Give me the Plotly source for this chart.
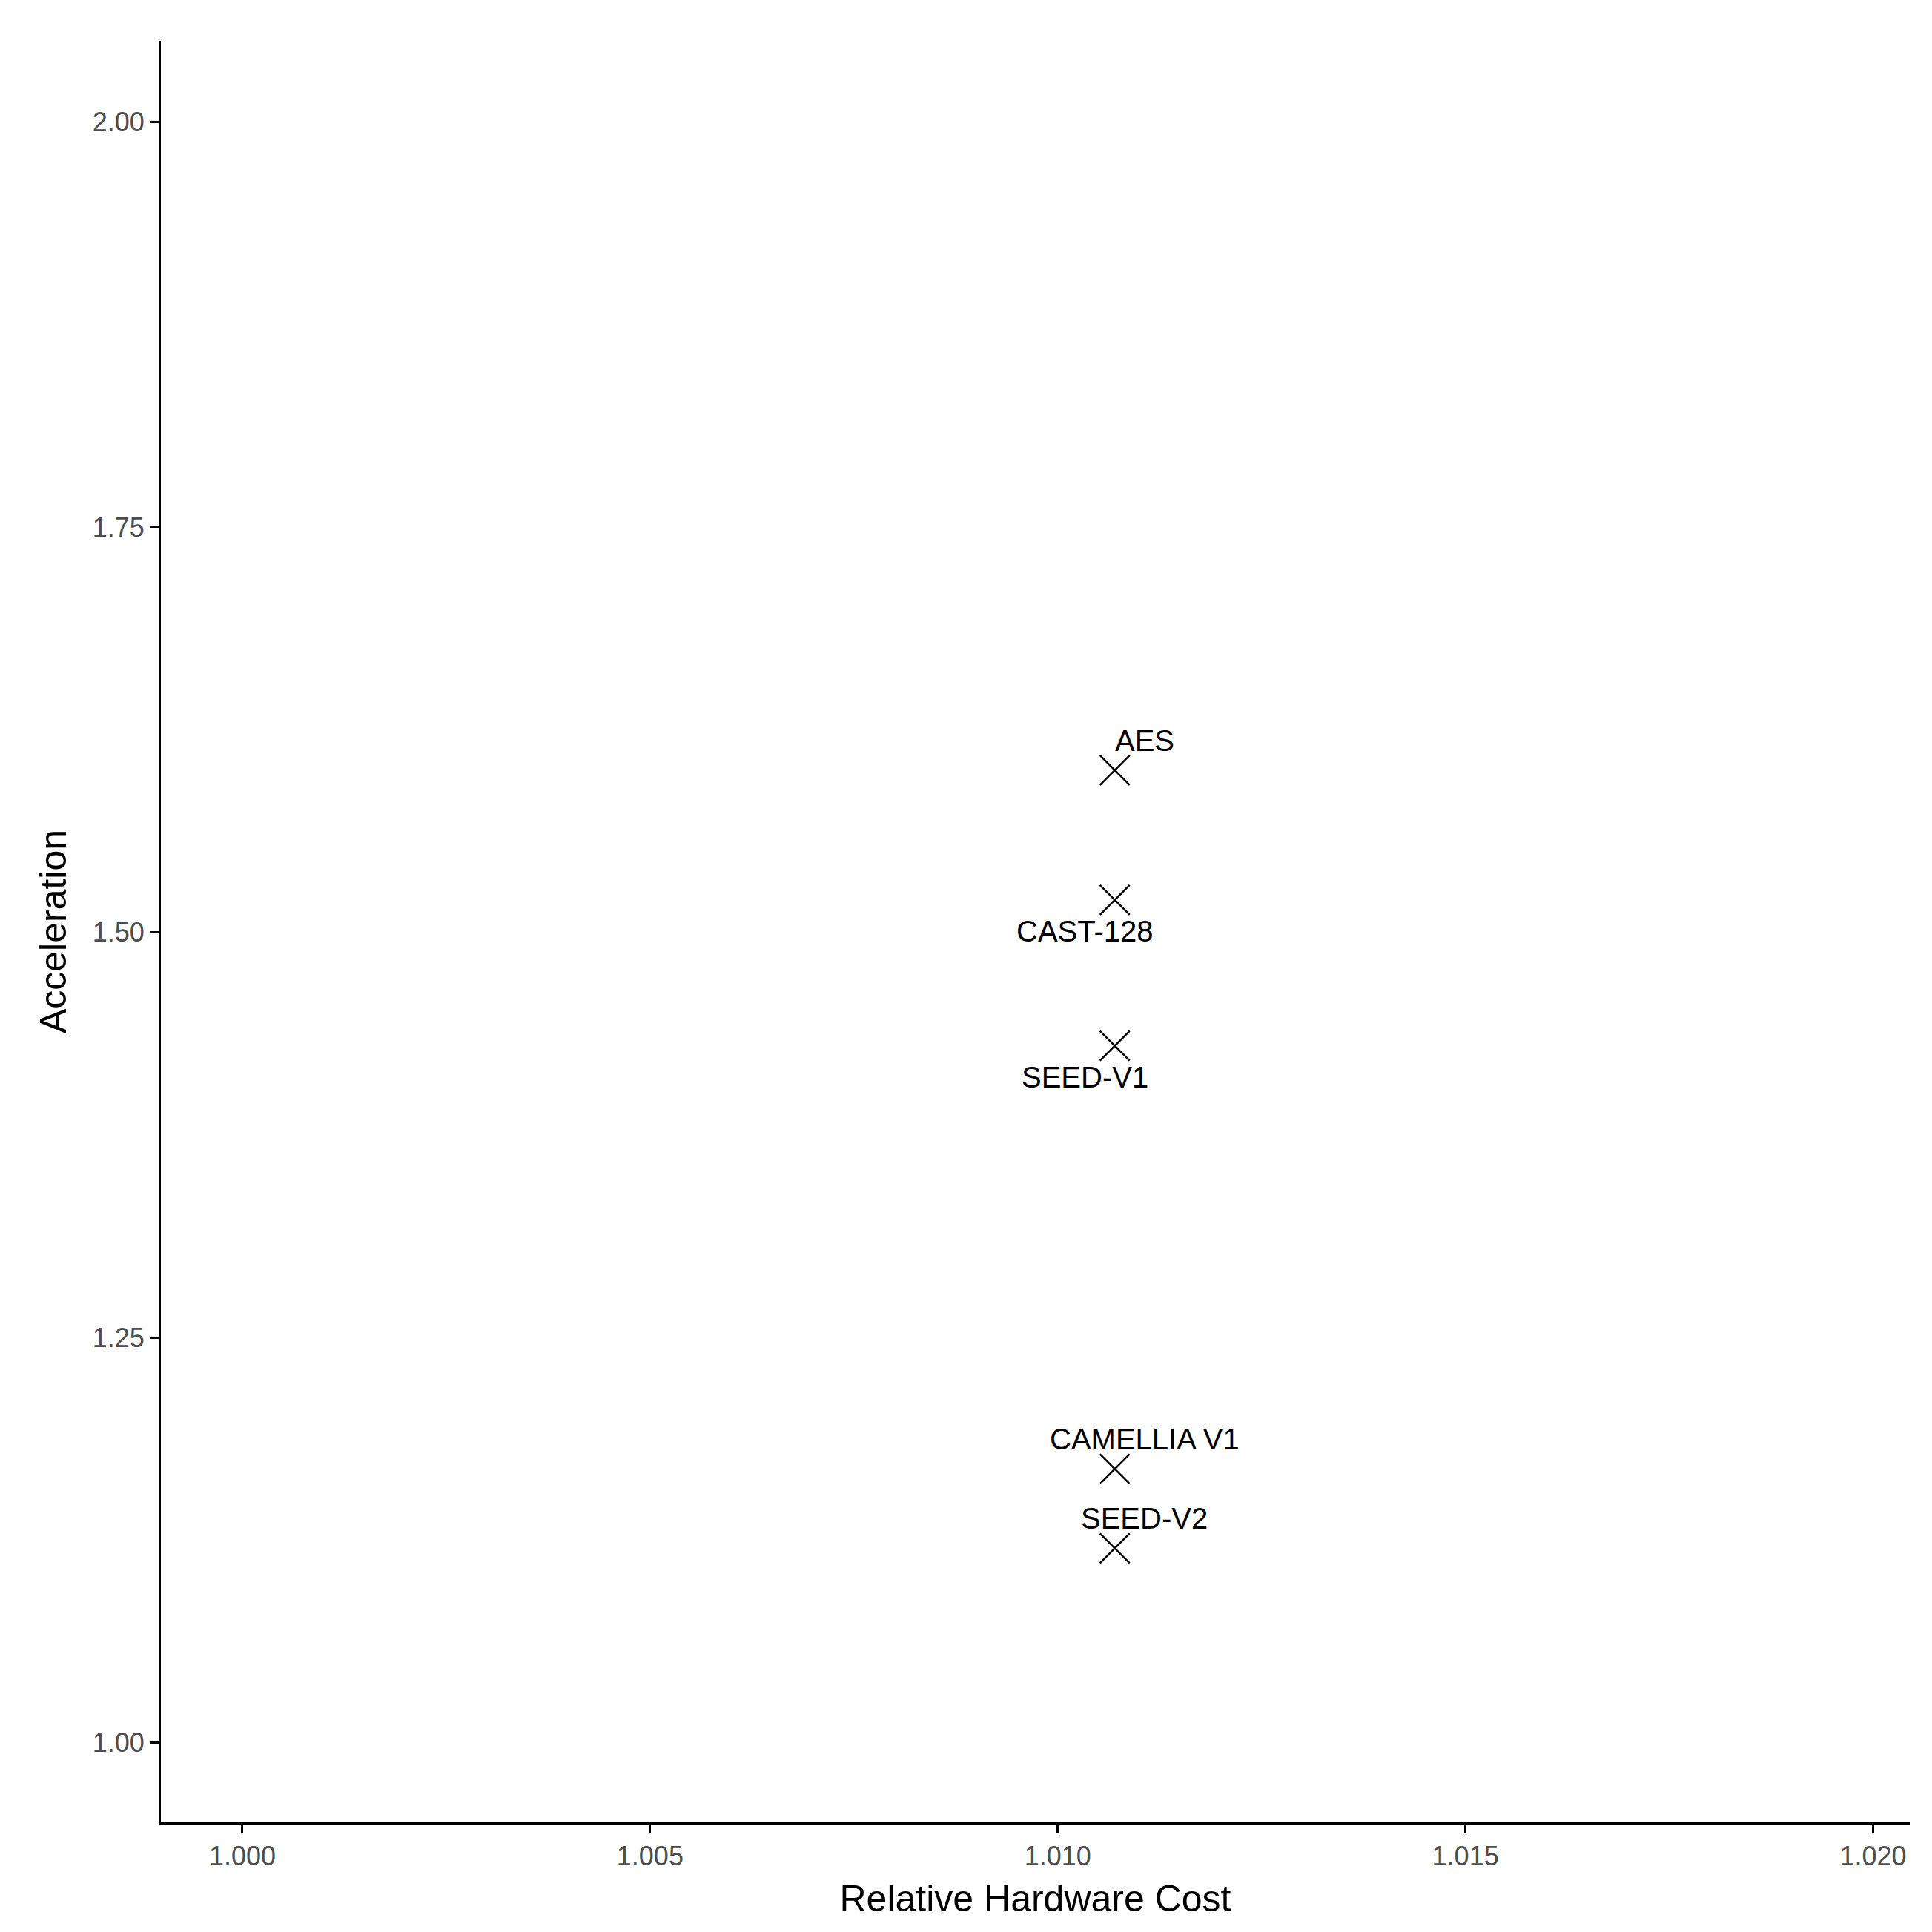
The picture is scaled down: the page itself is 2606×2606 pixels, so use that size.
import plotly.graph_objects as go

names = ["AES", "CAST-128", "SEED-V1", "CAMELLIA V1", "SEED-V2"]
cost = [1.0107, 1.0107, 1.0107, 1.0107, 1.0107]
accel = [1.600, 1.520, 1.430, 1.169, 1.120]
label_dx = [40, -40, -40, 40, 40]
label_dy = [40, -42, -42, 40, 40]

fig = go.Figure(go.Scatter(x=cost, y=accel, mode="markers",
    marker=dict(symbol="x-thin-open", size=40, line=dict(width=2.5, color="black"), color="black")))
for n, x, y, dx, dy in zip(names, cost, accel, label_dx, label_dy):
    fig.add_annotation(x=x, y=y, text=n, showarrow=False, xshift=dx, yshift=dy,
                       font=dict(size=40, color="black"))

ax = dict(showgrid=False, zeroline=False, showline=True, linecolor="black", linewidth=3,
          ticks="outside", ticklen=12, tickwidth=2.5, tickcolor="black",
          tickfont=dict(size=36, color="#4d4d4d"), mirror=False)
fig.update_layout(
    width=2606, height=2606, plot_bgcolor="white", paper_bgcolor="white",
    font=dict(family="Liberation Sans, Arial", color="black"),
    margin=dict(l=209, r=38, t=47, b=156), showlegend=False,
    xaxis=dict(ax, range=[0.999, 1.02045], tickvals=[1.000, 1.005, 1.010, 1.015, 1.020],
               ticktext=["1.000", "1.005", "1.010", "1.015", "1.020"],
               title=dict(text="Relative Hardware Cost", font=dict(size=50), standoff=20)),
    yaxis=dict(ax, range=[0.951, 2.05], tickvals=[1.00, 1.25, 1.50, 1.75, 2.00],
               ticktext=["1.00", "1.25", "1.50", "1.75", "2.00"],
               title=dict(text="Acceleration", font=dict(size=50), standoff=20)),
)
fig.write_html("out.html")
